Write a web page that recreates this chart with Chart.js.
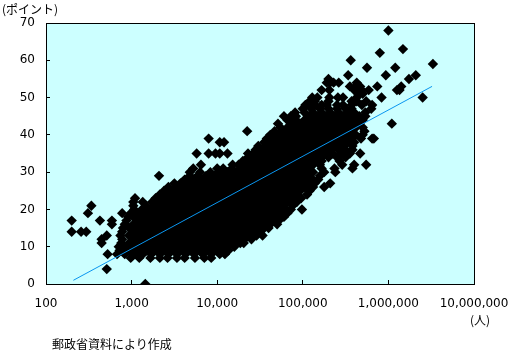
<!DOCTYPE html>
<html lang="ja"><head><meta charset="utf-8">
<style>
html,body{margin:0;padding:0;background:#fff}
#w{position:relative;width:511px;height:352px;overflow:hidden}
canvas{position:absolute;left:0;top:0}
.t{position:absolute;font:12px "Noto Sans CJK JP",sans-serif;line-height:14px;white-space:nowrap;color:#000}
</style>
<script src="https://cdn.jsdelivr.net/npm/chart.js@4"></script>
</head><body>
<div id="w"><canvas id="c" width="511" height="352"></canvas>
<div class="t" style="left:2px;top:2px">(ポイント)</div>
<div class="t" style="left:470px;top:313px">(人)</div>
<div class="t" style="left:52px;top:337px">郵政省資料により作成</div>
</div>
<script>
const xTickValues=[100,1000,10000,100000,1000000,10000000];
const yMax=70;
const trendLogPop=[2.32,6.51];
const trendScore=[1,53];
const scoreRows=[0,4,7,8,9,10,11,12,13,14,15,16,17,18,19,20,21,22,23,24,25,26,27,28,29,30,31,32,33,34,35,36,37,38,39,40,41,42,43,44,45,46,47,48,49,50,51,52,53,54,55,56,58,59,60,62,63,68];
const logPopRows=[
[3.16],
[2.71],
[2.99,3.09,3.22,3.33,3.42,3.53,3.62,3.74,3.85,3.93],
[2.72,2.83,2.92,3.03,3.13,3.23,3.33,3.43,3.53,3.63,3.73,3.83,3.93,4.03,4.09],
[2.86,2.97,3.07,3.17,3.27,3.37,3.47,3.57,3.67,3.77,3.87,3.97,4.07,4.13],
[2.85,2.92,3.02,3.12,3.22,3.32,3.42,3.52,3.62,3.72,3.82,3.92,4.02,4.12,4.2],
[2.65,2.88,2.97,3.07,3.17,3.27,3.37,3.47,3.57,3.67,3.77,3.87,3.97,4.07,4.17,4.27,4.31],
[2.65,2.89,3.02,3.12,3.22,3.32,3.42,3.52,3.62,3.72,3.82,3.92,4.02,4.12,4.22,4.32,4.4],
[2.71,2.87,2.97,3.07,3.17,3.27,3.37,3.47,3.57,3.67,3.77,3.87,3.97,4.07,4.17,4.27,4.37,4.46,4.53],
[2.3,2.41,2.47,2.89,3.02,3.12,3.22,3.32,3.42,3.52,3.62,3.72,3.82,3.92,4.02,4.12,4.22,4.32,4.42,4.5],
[2.9,2.97,3.07,3.17,3.27,3.37,3.47,3.57,3.67,3.77,3.87,3.97,4.07,4.17,4.27,4.37,4.47,4.55,4.6],
[2.77,2.92,3.02,3.12,3.22,3.32,3.42,3.52,3.62,3.72,3.82,3.92,4.02,4.12,4.22,4.32,4.42,4.52,4.62,4.7],
[2.3,2.63,2.77,2.94,3.07,3.17,3.27,3.37,3.47,3.57,3.67,3.77,3.87,3.97,4.07,4.17,4.27,4.37,4.47,4.57,4.67,4.72],
[2.96,3.02,3.12,3.22,3.32,3.42,3.52,3.62,3.72,3.82,3.92,4.02,4.12,4.22,4.32,4.42,4.52,4.62,4.72,4.78],
[2.49,2.89,2.99,3.07,3.17,3.27,3.37,3.47,3.57,3.67,3.77,3.87,3.97,4.07,4.17,4.27,4.37,4.47,4.57,4.67,4.77,4.82],
[3.03,3.12,3.22,3.32,3.42,3.52,3.62,3.72,3.82,3.92,4.02,4.12,4.22,4.32,4.42,4.52,4.62,4.72,4.8,4.86,4.99],
[2.53,3.02,3.17,3.27,3.37,3.47,3.57,3.67,3.77,3.87,3.97,4.07,4.17,4.27,4.37,4.47,4.57,4.67,4.77,4.88],
[3.02,3.13,3.24,3.32,3.42,3.52,3.62,3.72,3.82,3.92,4.02,4.12,4.22,4.32,4.42,4.52,4.62,4.72,4.82,4.93],
[3.04,3.28,3.37,3.47,3.57,3.67,3.77,3.87,3.97,4.07,4.17,4.27,4.37,4.47,4.57,4.67,4.77,4.87,4.98],
[3.33,3.42,3.52,3.62,3.72,3.82,3.92,4.02,4.12,4.22,4.32,4.42,4.52,4.62,4.72,4.82,4.92,5.05],
[3.38,3.47,3.57,3.67,3.77,3.87,3.97,4.07,4.17,4.27,4.37,4.47,4.57,4.67,4.77,4.87,4.97,5.08],
[3.43,3.52,3.62,3.72,3.82,3.92,4.02,4.12,4.22,4.32,4.42,4.52,4.62,4.72,4.82,4.92,5.02,5.12,5.25],
[3.5,3.57,3.67,3.77,3.87,3.97,4.07,4.17,4.27,4.37,4.47,4.57,4.67,4.77,4.87,4.97,5.07,5.14,5.32],
[3.62,3.72,3.82,3.92,4.02,4.12,4.22,4.32,4.42,4.52,4.62,4.72,4.82,4.92,5.02,5.12,5.18],
[3.32,3.68,3.77,3.87,3.97,4.07,4.17,4.27,4.37,4.47,4.57,4.67,4.77,4.87,4.97,5.07,5.2],
[3.68,3.8,3.92,4.02,4.12,4.22,4.32,4.42,4.52,4.62,4.72,4.82,4.92,5.02,5.12,5.25,5.38],
[3.72,4.0,4.07,4.17,4.27,4.37,4.47,4.57,4.67,4.77,4.87,4.97,5.07,5.22,5.37,5.58],
[3.81,4.18,4.25,4.32,4.42,4.52,4.62,4.72,4.82,4.92,5.02,5.12,5.2,5.46,5.6,5.74],
[4.3,4.37,4.47,4.57,4.67,4.77,4.87,4.97,5.07,5.17,5.22,5.43],
[4.36,4.42,4.52,4.62,4.72,4.82,4.92,5.02,5.12,5.22,5.3,5.4,5.5],
[3.76,3.9,3.98,4.03,4.12,4.36,4.42,4.47,4.57,4.67,4.77,4.87,4.97,5.07,5.17,5.27,5.35,5.45,5.55,5.67],
[4.45,4.52,4.62,4.72,4.82,4.92,5.02,5.12,5.22,5.32,5.42,5.5,5.58],
[4.48,4.57,4.67,4.77,4.87,4.97,5.07,5.17,5.27,5.37,5.47,5.58],
[4.03,4.08,4.55,4.62,4.72,4.82,4.92,5.02,5.12,5.22,5.32,5.42,5.52,5.6],
[3.9,4.58,4.67,4.77,4.87,4.97,5.07,5.17,5.27,5.37,5.47,5.57,5.68,5.81,5.83],
[4.62,4.72,4.82,4.92,5.02,5.12,5.22,5.32,5.42,5.52,5.62,5.7],
[4.35,4.67,4.77,4.87,4.97,5.07,5.17,5.27,5.37,5.47,5.57,5.72],
[4.74,4.82,4.92,5.02,5.12,5.22,5.32,5.42,5.52,5.62,5.7],
[4.71,4.87,4.97,5.07,5.17,5.27,5.37,5.47,5.57,5.66,6.04],
[4.82,4.92,5.02,5.12,5.22,5.32,5.42,5.52,5.62,5.7],
[4.78,4.86,4.92,5.06,5.17,5.27,5.37,5.47,5.57,5.66,5.73],
[4.91,5.02,5.12,5.22,5.32,5.42,5.52,5.6,5.73],
[5.0,5.1,5.2,5.3,5.4,5.5,5.57,5.8],
[5.03,5.08,5.14,5.22,5.28,5.4,5.47,5.57,5.69,5.81],
[5.08,5.14,5.3,5.57,5.63,5.74],
[5.11,5.17,5.31,5.41,5.47,5.63,5.92,6.4],
[5.7,5.65],
[5.22,5.31,5.6,5.69,5.77,6.1,6.13],
[5.55,5.62,5.67,5.87,6.15],
[5.28,5.32,5.36,5.42,5.63],
[5.3,6.24],
[5.53,5.97,6.32],
[5.75,6.08],
[6.52],
[5.56],
[5.9],
[6.17],
[6.0]
];
const scatterData=[];
logPopRows.forEach((row,i)=>row.forEach(v=>scatterData.push({x:Math.pow(10,v),y:scoreRows[i]})));
const trendData=trendLogPop.map((v,i)=>({x:Math.pow(10,v),y:trendScore[i]}));
const font={family:'"DejaVu Sans"',size:12};
new Chart(document.getElementById('c'),{
type:'scatter',
data:{datasets:[
{data:trendData,type:'line',showLine:true,borderColor:'#0a96f0',borderWidth:1,pointRadius:0,fill:false,order:0},
{data:scatterData,pointStyle:'rectRot',pointRadius:5.2,backgroundColor:'#000',borderColor:'#000',borderWidth:0,order:1}
]},
options:{
responsive:false,animation:false,
layout:{padding:{top:23,right:37,left:0,bottom:0}},
plugins:{legend:{display:false},tooltip:{enabled:false}},
scales:{
x:{type:'logarithmic',min:100,max:10000000,
 afterBuildTicks:s=>{s.ticks=xTickValues.map(v=>({value:v}));},
 afterFit:s=>{s.height=68;s.paddingLeft=0;s.paddingRight=0;},
 grid:{drawOnChartArea:false,tickLength:-4,color:'#000',lineWidth:1},
 border:{color:'#000',width:1},
 ticks:{color:'#000',font,padding:17,maxRotation:0,autoSkip:false,callback:v=>Number(v).toLocaleString('en-US')}},
y:{min:0,max:yMax,
 afterFit:s=>{s.width=46;s.paddingTop=0;s.paddingBottom=0;},
 grid:{drawOnChartArea:false,tickLength:-4,color:'#000',lineWidth:1},
 border:{color:'#000',width:1},
 ticks:{color:'#000',font,padding:15,stepSize:10}}
}},
plugins:[{id:'plotFrame',
 beforeDraw(ch){const a=ch.chartArea,c=ch.ctx;c.save();c.fillStyle='#ccffff';c.fillRect(a.left,a.top,a.right-a.left,a.bottom-a.top);c.restore();},
 afterDraw(ch){const a=ch.chartArea,c=ch.ctx;c.save();c.strokeStyle='#000';c.lineWidth=1;c.strokeRect(Math.round(a.left)+.5,Math.round(a.top)+.5,Math.round(a.right-a.left),Math.round(a.bottom-a.top));c.restore();}
}]
});
</script>
</body></html>
